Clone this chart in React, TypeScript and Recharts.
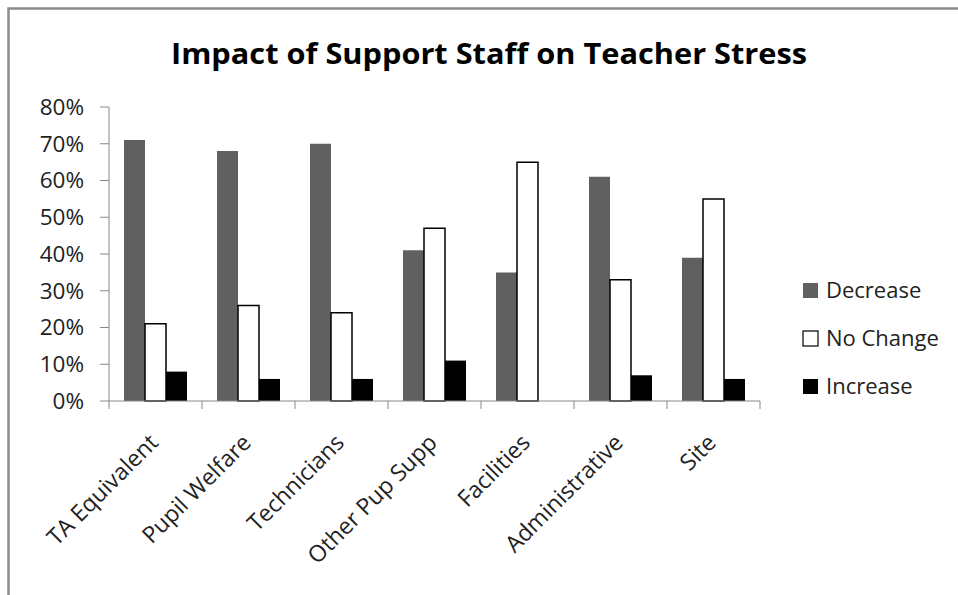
import { Bar, BarChart, XAxis, YAxis } from "recharts";

const categories = [
  "TA Equivalent",
  "Pupil Welfare",
  "Technicians",
  "Other Pup Supp",
  "Facilities",
  "Administrative",
  "Site",
];
const decrease = [71, 68, 70, 41, 35, 61, 39];
const noChange = [21, 26, 24, 47, 65, 33, 55];
const increase = [8, 6, 6, 11, 0, 7, 6];
const yTicks = [0, 10, 20, 30, 40, 50, 60, 70, 80];

const series = [
  { key: "Decrease", values: decrease, fill: "#606060", stroke: "none" },
  { key: "No Change", values: noChange, fill: "#ffffff", stroke: "#000000" },
  { key: "Increase", values: increase, fill: "#000000", stroke: "none" },
];

const data = categories.map((name, i) => {
  const row: Record<string, string | number> = { name };
  series.forEach((s) => (row[s.key] = s.values[i]));
  return row;
});

const FONT = "'Open Sans', sans-serif";
const AXIS_GREY = "#888888";
const CHART_W = 958;
const CHART_H = 595;
const Y_AXIS_W = 80;
const margin = { top: 107, right: 198, left: 29, bottom: 44 };
const band = (CHART_W - margin.left - margin.right - Y_AXIS_W) / categories.length;

const CategoryTick = (props: any) => {
  const { x, y, payload, index } = props;
  const ax = x + 4;
  const ay = y + 43;
  return (
    <g>
      <line x1={x - band / 2} x2={x - band / 2} y1={y} y2={y + 8} stroke={AXIS_GREY} />
      {index === categories.length - 1 && (
        <line x1={x + band / 2} x2={x + band / 2} y1={y} y2={y + 8} stroke={AXIS_GREY} />
      )}
      <text
        x={ax}
        y={ay}
        textAnchor="end"
        transform={`rotate(-45 ${ax} ${ay})`}
        fontFamily={FONT}
        fontSize={23}
        fill="#222"
      >
        {payload.value}
      </text>
    </g>
  );
};

export default function App() {
  return (
    <div style={{ position: "absolute", left: 0, top: 0, width: CHART_W, height: CHART_H, background: "#fff" }}>
      <BarChart
        width={CHART_W}
        height={CHART_H}
        data={data}
        margin={margin}
        barCategoryGap={15}
        barGap={0}
      >
        <XAxis
          dataKey="name"
          interval={0}
          height={150}
          tickSize={0}
          tickMargin={0}
          tickLine={false}
          axisLine={{ stroke: AXIS_GREY }}
          tick={<CategoryTick />}
        />
        <YAxis
          width={Y_AXIS_W}
          domain={[0, 80]}
          ticks={yTicks}
          interval={0}
          tickSize={9}
          tickMargin={16}
          tickFormatter={(v) => `${v}%`}
          axisLine={{ stroke: AXIS_GREY }}
          tickLine={{ stroke: AXIS_GREY }}
          tick={{ fontFamily: FONT, fontSize: 22.5, fill: "#222" }}
        />
        {series.map((s) => (
          <Bar
            key={s.key}
            dataKey={s.key}
            fill={s.fill}
            stroke={s.stroke}
            strokeWidth={1.5}
            isAnimationActive={false}
          />
        ))}
      </BarChart>
      <svg
        width={CHART_W}
        height={CHART_H}
        style={{ position: "absolute", left: 0, top: 0, pointerEvents: "none" }}
      >
        <path d={`M8.5,${CHART_H} V8.5 H${CHART_W}`} fill="none" stroke="#8c8c8c" strokeWidth={2.5} />
        <text
          x={489}
          y={64}
          textAnchor="middle"
          fontFamily={FONT}
          fontWeight={700}
          fontSize={29}
          textLength={636}
          lengthAdjust="spacingAndGlyphs"
          fill="#000"
        >
          Impact of Support Staff on Teacher Stress
        </text>
        {series.map((s, i) => (
          <g key={s.key}>
            <rect
              x={803}
              y={283 + i * 48}
              width={15}
              height={15}
              fill={s.fill}
              stroke={s.stroke === "none" ? "none" : s.stroke}
              strokeWidth={1.2}
            />
            <text
              x={826}
              y={290.5 + i * 48}
              dy="0.36em"
              fontFamily={FONT}
              fontSize={22}
              fill="#222"
            >
              {s.key}
            </text>
          </g>
        ))}
      </svg>
    </div>
  );
}
